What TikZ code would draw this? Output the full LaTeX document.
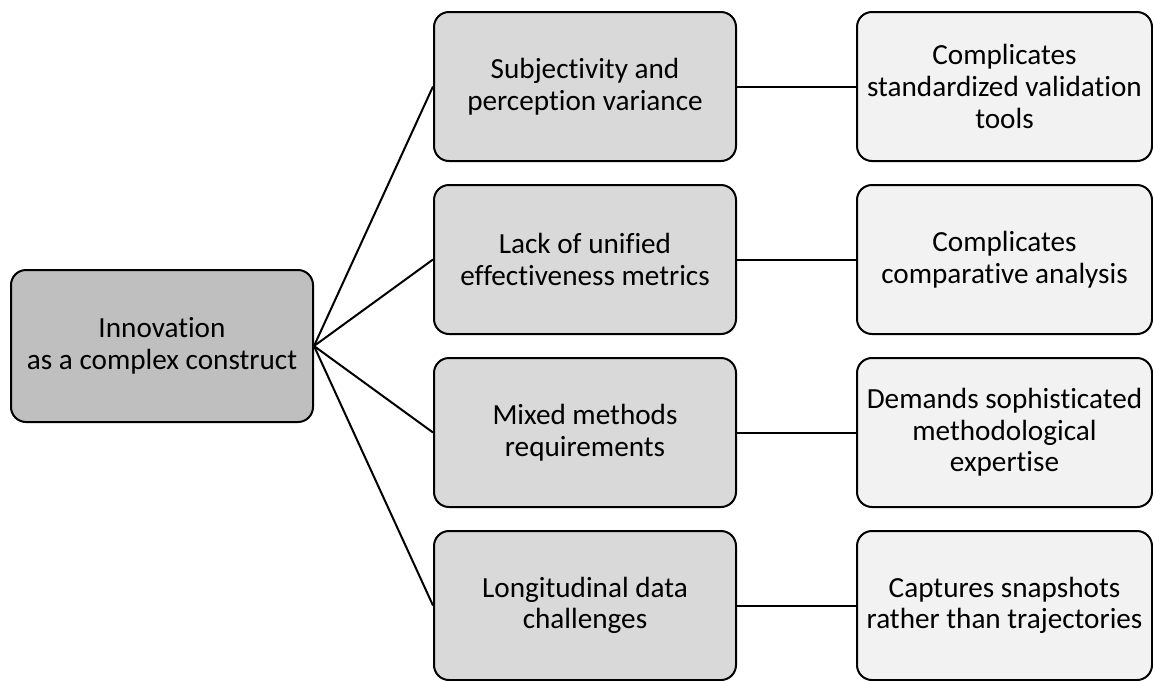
\documentclass[tikz,border=0pt]{standalone}
\usepackage{fontspec}
\setmainfont{Carlito}[Ligatures=NoCommon]
\usepackage{xcolor}
\definecolor{rootgray}{HTML}{BFBFBF}
\definecolor{midgray}{HTML}{D9D9D9}
\definecolor{palegray}{HTML}{F2F2F2}

\begin{document}
\begin{tikzpicture}[x=0.5pt, y=-0.5pt,
	box/.style={draw, line width=1pt, rounded corners=7.5pt, align=center,
		minimum width=151pt, minimum height=74.5pt, inner sep=0pt,
		font=\fontsize{14.6}{15.8}\selectfont},
	link/.style={line width=1pt}]
			\useasboundingbox (0,0) rectangle (1153,681);

			% Central construct on the left
			\node[box, fill=rootgray, minimum height=76pt] (innov) at (162,346) {Innovation\\as a complex construct};

			% Challenges (middle column)
			\node[box, fill=midgray] (ch1) at (585,86.5) {Subjectivity and\\perception variance};
			\node[box, fill=midgray] (ch2) at (585,259.5) {Lack of unified\\effectiveness metrics};
			\node[box, fill=midgray] (ch3) at (585,432.5) {Mixed methods\\requirements};
			\node[box, fill=midgray] (ch4) at (585,605.5) {Longitudinal data\\challenges};

			% Consequences (right column)
			\node[box, fill=palegray, minimum width=147.5pt] (cq1) at (1004.5,86.5) {Complicates\\standardized validation\\tools};
			\node[box, fill=palegray, minimum width=147.5pt] (cq2) at (1004.5,259.5) {Complicates\\comparative analysis};
			\node[box, fill=palegray, minimum width=147.5pt] (cq3) at (1004.5,432.5) {Demands sophisticated\\methodological\\expertise};
			\node[box, fill=palegray, minimum width=147.5pt] (cq4) at (1004.5,605.5) {Captures snapshots\\rather than trajectories};

			% Draw connections
			\foreach \i in {1,...,4} {
				\draw[link] (innov.east) -- (ch\i.west);
				\draw[link] (ch\i.east) -- (cq\i.west);
			}
\end{tikzpicture}
\end{document}
